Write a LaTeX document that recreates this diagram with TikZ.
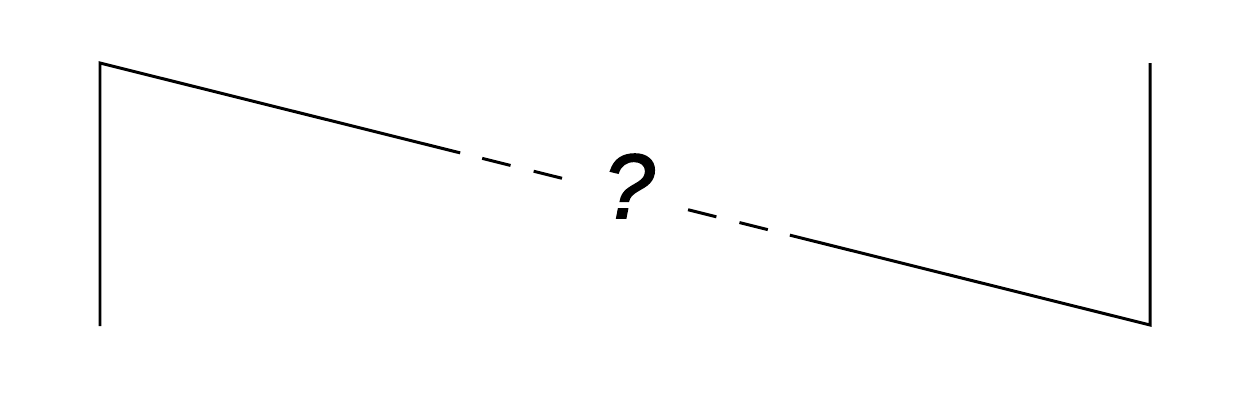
\documentclass[tikz,border=0pt]{standalone}
\usepackage{fontspec}
\setmainfont{Liberation Sans}
\newfontfamily\qfont[ItalicFeatures={FakeBold=2}]{Liberation Sans}
\usetikzlibrary{calc}
\begin{document}
\begin{tikzpicture}[x=0.02cm,y=-0.02cm,
  edge/.style={line width=1.7pt,black},
  qlabel/.style={font=\qfont\itshape\fontsize{52}{60}\selectfont,inner sep=0pt}]
\useasboundingbox (0,0) rectangle (1250,400);
\coordinate (LB) at (100,326);
\coordinate (A) at (100,63);
\coordinate (B) at (1150,325);
\coordinate (RT) at (1150,63);
\node[qlabel] (q) at (629,186) {?};
\draw[edge] (LB) -- (A) -- ($(A)!0.343!(B)$);
\draw[edge] ($(A)!0.364!(B)$) -- ($(A)!0.391!(B)$);
\draw[edge] ($(A)!0.413!(B)$) -- ($(A)!0.440!(B)$);
\draw[edge] ($(A)!0.560!(B)$) -- ($(A)!0.587!(B)$);
\draw[edge] ($(A)!0.609!(B)$) -- ($(A)!0.636!(B)$);
\draw[edge] ($(A)!0.657!(B)$) -- (B) -- (RT);
\end{tikzpicture}
\end{document}
